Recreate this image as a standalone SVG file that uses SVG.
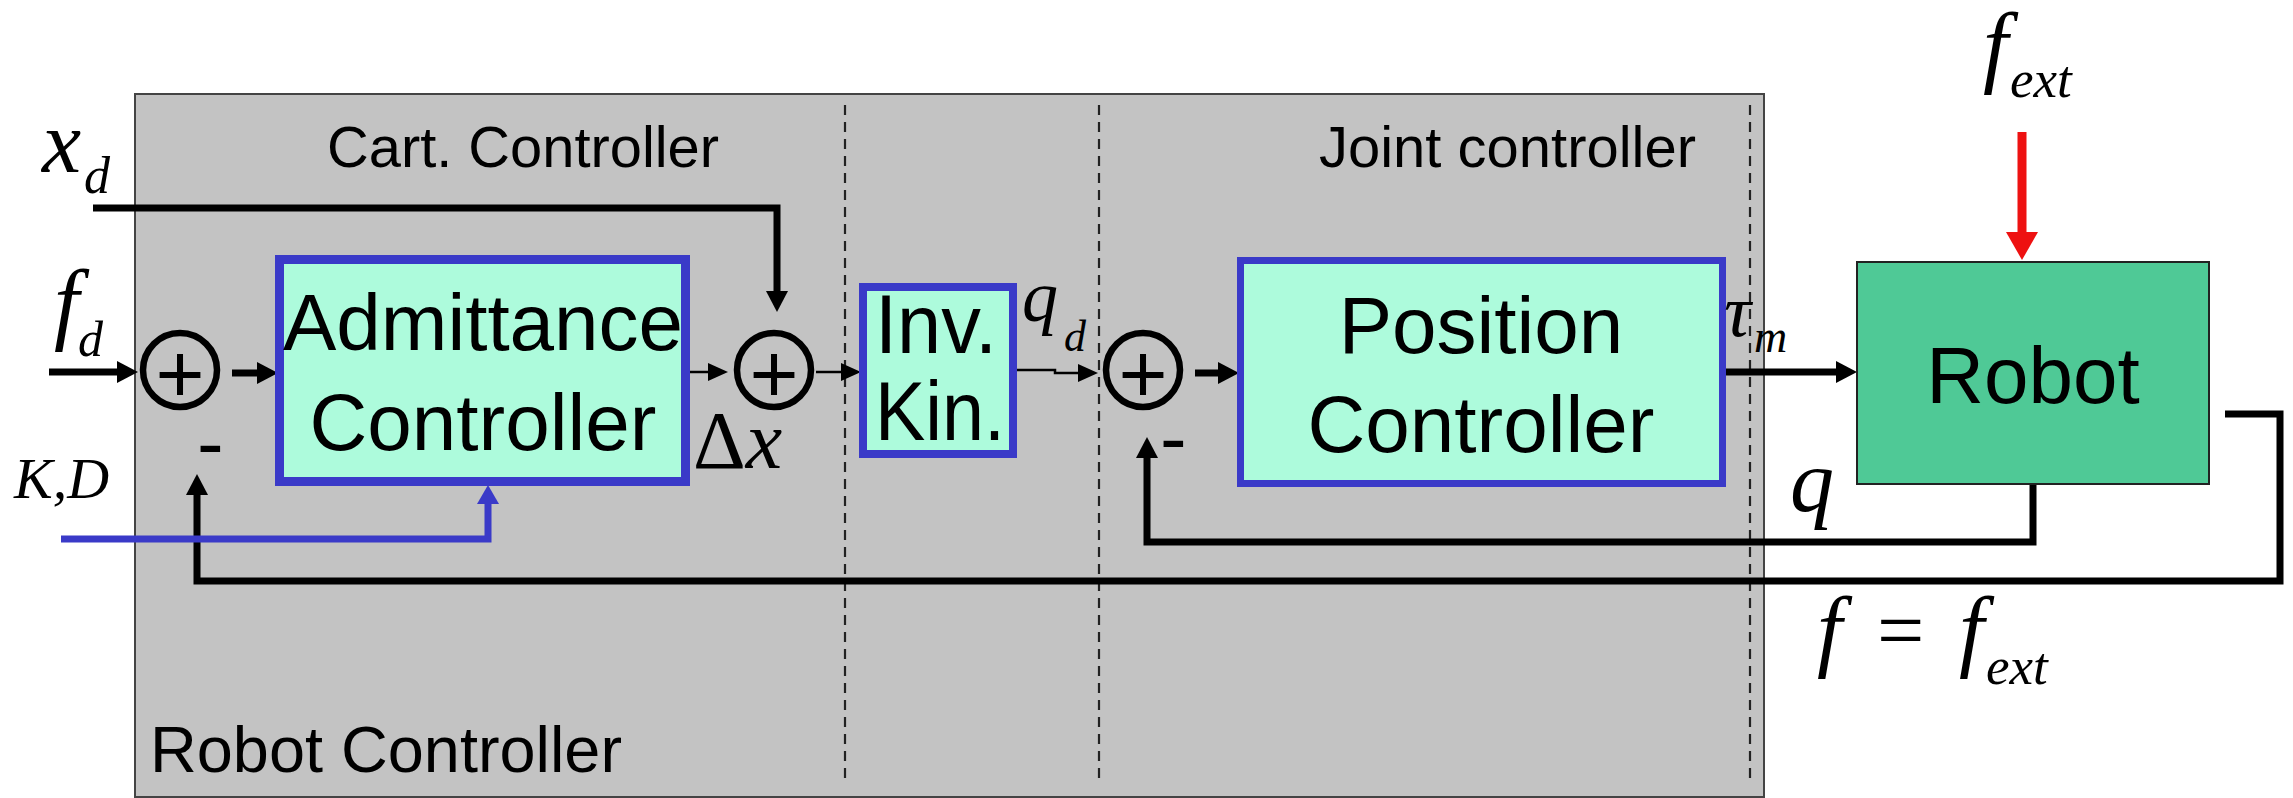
<svg xmlns="http://www.w3.org/2000/svg" width="2293" height="798" viewBox="0 0 2293 798">
<defs>
<style>
.sans{font-family:"Liberation Sans",Arial,sans-serif;fill:#000}
.math{font-family:"Liberation Serif","Times New Roman",serif;font-style:italic;fill:#000}
.up{font-style:normal}
.blk{fill:none;stroke:#000;stroke-width:7;stroke-linejoin:miter}
.thin{fill:none;stroke:#000;stroke-width:2.5}
.dash{fill:none;stroke:#222;stroke-width:2.2;stroke-dasharray:10 7}
.ctl{fill:#ADFBDC;stroke:#3A3AC8}
.sum{fill:none;stroke:#000;stroke-width:6.5}
</style>
<marker id="ahK" markerUnits="userSpaceOnUse" markerWidth="22" markerHeight="22" refX="0" refY="11" orient="auto"><path d="M0,0 L21,11 L0,22 z" fill="#000"/></marker>
<marker id="ahT" markerUnits="userSpaceOnUse" markerWidth="20" markerHeight="18" refX="0" refY="9" orient="auto"><path d="M0,0 L20,9 L0,18 z" fill="#000"/></marker>
<marker id="ahB" markerUnits="userSpaceOnUse" markerWidth="20" markerHeight="22" refX="0" refY="11" orient="auto"><path d="M0,0 L19,11 L0,22 z" fill="#3A3AC8"/></marker>
<marker id="ahR" markerUnits="userSpaceOnUse" markerWidth="28" markerHeight="32" refX="0" refY="16" orient="auto"><path d="M0,0 L28,16 L0,32 z" fill="#EE1111"/></marker>
</defs>

<g id="robot-controller-area">
<rect x="135" y="94" width="1629" height="703" fill="#C3C3C3" stroke="#444" stroke-width="2"/>
<line class="dash" x1="845" y1="105" x2="845" y2="785"/>
<line class="dash" x1="1099" y1="105" x2="1099" y2="785"/>
<line class="dash" x1="1750" y1="105" x2="1750" y2="785"/>
<text class="sans" x="327" y="167" font-size="57" textLength="392" lengthAdjust="spacingAndGlyphs">Cart. Controller</text>
<text class="sans" x="1319" y="167" font-size="57" textLength="377" lengthAdjust="spacingAndGlyphs">Joint controller</text>
<text class="sans" x="150" y="772" font-size="65" textLength="472" lengthAdjust="spacingAndGlyphs">Robot Controller</text>
</g>

<g id="connectors">
<line class="blk" x1="49" y1="372" x2="117" y2="372" marker-end="url(#ahK)"/>
<line class="blk" x1="232" y1="373" x2="257" y2="373" marker-end="url(#ahK)"/>
<line class="thin" x1="690" y1="372" x2="708" y2="372" marker-end="url(#ahT)"/>
<polyline class="blk" points="93,208 777,208 777,291" marker-end="url(#ahK)"/>
<line class="thin" x1="816" y1="372" x2="841" y2="372" marker-end="url(#ahT)"/>
<polyline class="thin" points="1017,370 1055,370 1055,373 1078,373" marker-end="url(#ahT)"/>
<line class="blk" x1="1195" y1="373" x2="1218" y2="373" marker-end="url(#ahK)"/>
<line class="blk" x1="1726" y1="372" x2="1836" y2="372" stroke-width="8" marker-end="url(#ahK)"/>
<line x1="2022" y1="132" x2="2022" y2="232" stroke="#EE1111" stroke-width="9" marker-end="url(#ahR)"/>
<polyline class="blk" points="2033,484 2033,542 1147,542 1147,458" marker-end="url(#ahK)"/>
<polyline class="blk" points="2225,414 2280,414 2280,581 197,581 197,495" marker-end="url(#ahK)"/>
<polyline points="61,539 488,539 488,504" fill="none" stroke="#3A3AC8" stroke-width="7" marker-end="url(#ahB)"/>
</g>

<g id="sum1">
<circle class="sum" cx="180" cy="370" r="37"/>
<text class="sans" x="180" y="402" font-size="84" text-anchor="middle">+</text>
<text class="sans" x="197" y="470" font-size="80">-</text>
</g>

<g id="admittance-controller">
<rect class="ctl" x="279.5" y="259.5" width="406" height="222" stroke-width="9"/>
<text class="sans" x="483" y="350" font-size="80" text-anchor="middle">Admittance</text>
<text class="sans" x="483" y="450" font-size="80" text-anchor="middle">Controller</text>
</g>

<g id="sum2">
<circle class="sum" cx="774" cy="370" r="37"/>
<text class="sans" x="774" y="402" font-size="84" text-anchor="middle">+</text>
</g>

<g id="inv-kin">
<rect class="ctl" x="863" y="287" width="150" height="167" stroke-width="8"/>
<text class="sans" x="875" y="353" font-size="84" textLength="122" lengthAdjust="spacingAndGlyphs">Inv.</text>
<text class="sans" x="875" y="440" font-size="84" textLength="130" lengthAdjust="spacingAndGlyphs">Kin.</text>
</g>

<g id="sum3">
<circle class="sum" cx="1143" cy="370" r="37"/>
<text class="sans" x="1143" y="402" font-size="84" text-anchor="middle">+</text>
<text class="sans" x="1160" y="465" font-size="80">-</text>
</g>

<g id="position-controller">
<rect class="ctl" x="1240.5" y="260.5" width="482" height="223" stroke-width="7"/>
<text class="sans" x="1481" y="353" font-size="80" text-anchor="middle">Position</text>
<text class="sans" x="1481" y="452" font-size="80" text-anchor="middle">Controller</text>
</g>

<g id="robot">
<rect x="1857" y="262" width="352" height="222" fill="#4FC996" stroke="#222" stroke-width="2"/>
<text class="sans" x="2033" y="403" font-size="80" text-anchor="middle">Robot</text>
</g>

<g id="labels">
<text class="math"><tspan x="42" y="172" font-size="88">x</tspan><tspan x="84" y="193" font-size="52">d</tspan></text>
<text class="math"><tspan x="54" y="333" font-size="90">f</tspan><tspan x="78" y="356" font-size="50">d</tspan></text>
<text class="math" x="14" y="498" font-size="58">K,D</text>
<text class="math"><tspan class="up" x="693" y="468" font-size="82">Δ</tspan><tspan font-size="82">x</tspan></text>
<text class="math"><tspan x="1022" y="321" font-size="72">q</tspan><tspan x="1064" y="351" font-size="44">d</tspan></text>
<text class="math"><tspan x="1724" y="336" font-size="75">τ</tspan><tspan x="1754" y="352" font-size="46">m</tspan></text>
<text class="math"><tspan x="1983" y="76" font-size="90">f</tspan><tspan x="2010" y="97" font-size="53">ext</tspan></text>
<text class="math" x="1790" y="511" font-size="88">q</text>
<text class="math"><tspan x="1817" y="660" font-size="90">f</tspan><tspan class="up" x="1877" y="659" font-size="84">=</tspan><tspan x="1959" y="660" font-size="90">f</tspan><tspan x="1986" y="684" font-size="53">ext</tspan></text>
</g>
</svg>
